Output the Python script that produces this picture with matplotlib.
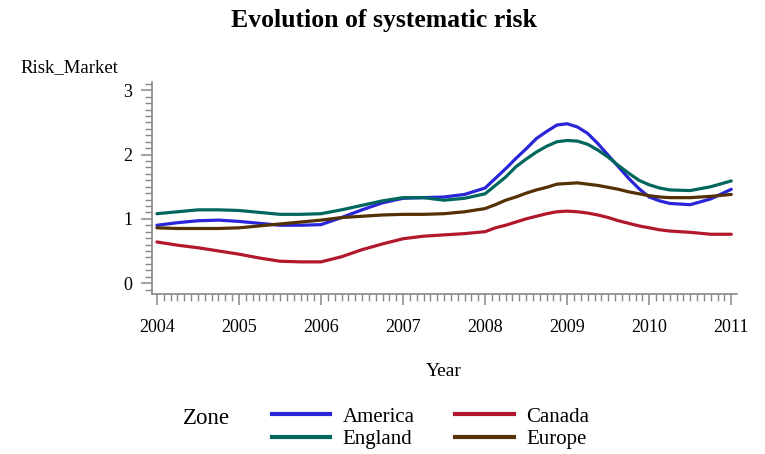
# Evolution of systematic risk by zone
import matplotlib
matplotlib.use("Agg")
import matplotlib.pyplot as plt
from matplotlib.ticker import MultipleLocator
from matplotlib.lines import Line2D

plt.rcParams['font.family'] = ['Liberation Serif', 'DejaVu Serif']

# Data (quarterly readings, eighths around the 2008-2010 hump)
years = [2004.00, 2004.25, 2004.50, 2004.75, 2005.00, 2005.25, 2005.50, 2005.75,
         2006.00, 2006.25, 2006.50, 2006.75, 2007.00, 2007.25, 2007.50, 2007.75,
         2008.000, 2008.125, 2008.250, 2008.375, 2008.500, 2008.625, 2008.750, 2008.875,
         2009.000, 2009.125, 2009.250, 2009.375, 2009.500, 2009.625, 2009.750, 2009.875,
         2010.000, 2010.125, 2010.250,
         2010.50, 2010.75, 2011.00]

america = [0.90, 0.94, 0.97, 0.98, 0.96, 0.93, 0.90, 0.90,
           0.91, 1.02, 1.14, 1.25, 1.32, 1.33, 1.34, 1.38,
           1.48, 1.63, 1.78, 1.94, 2.09, 2.25, 2.36, 2.46,
           2.48, 2.43, 2.33, 2.17, 1.99, 1.81, 1.63, 1.47,
           1.34, 1.28, 1.24,
           1.22, 1.31, 1.46]

england = [1.08, 1.11, 1.14, 1.14, 1.13, 1.10, 1.07, 1.07,
           1.08, 1.14, 1.21, 1.28, 1.33, 1.33, 1.29, 1.32,
           1.39, 1.52, 1.65, 1.81, 1.93, 2.04, 2.13, 2.20,
           2.22, 2.21, 2.16, 2.07, 1.96, 1.83, 1.71, 1.60,
           1.53, 1.48, 1.45,
           1.44, 1.50, 1.59]

canada = [0.64, 0.59, 0.55, 0.50, 0.45, 0.39, 0.34, 0.33,
          0.33, 0.41, 0.52, 0.61, 0.69, 0.73, 0.75, 0.77,
          0.80, 0.86, 0.90, 0.95, 1.00, 1.04, 1.08, 1.11,
          1.12, 1.11, 1.09, 1.06, 1.02, 0.97, 0.93, 0.89,
          0.86, 0.83, 0.81,
          0.79, 0.76, 0.76]

europe = [0.86, 0.85, 0.85, 0.85, 0.86, 0.89, 0.92, 0.95,
          0.98, 1.02, 1.04, 1.06, 1.07, 1.07, 1.08, 1.11,
          1.16, 1.22, 1.29, 1.34, 1.40, 1.45, 1.49, 1.54,
          1.55, 1.56, 1.54, 1.52, 1.49, 1.46, 1.42, 1.39,
          1.36, 1.34, 1.33,
          1.33, 1.35, 1.38]

year_ticks = [2004, 2005, 2006, 2007, 2008, 2009, 2010, 2011]

colors = {'America': '#2A25D9', 'Canada': '#B2182B',
          'England': '#01665E', 'Europe': '#543005'}

fig = plt.figure(figsize=(7.65, 4.54), dpi=100)
ax = fig.add_axes([152 / 765, 1 - 294 / 454, (737 - 152) / 765, (294 - 82) / 454])

lw = 2.3
for name, vals in [('America', america), ('England', england),
                   ('Canada', canada), ('Europe', europe)]:
    ax.plot(years, vals, color=colors[name], lw=lw,
            solid_joinstyle='round', solid_capstyle='round')

ax.set_xlim(2003.94, 2011.07)
ax.set_ylim(-0.17, 3.13)
ax.set_xticks(year_ticks)
ax.set_xticklabels([str(y) for y in year_ticks])
ax.set_yticks([0, 1, 2, 3])
ax.xaxis.set_minor_locator(MultipleLocator(1 / 12))
ax.yaxis.set_minor_locator(MultipleLocator(0.1))

for side in ['top', 'right']:
    ax.spines[side].set_visible(False)
for side in ['left', 'bottom']:
    ax.spines[side].set_color('#888888')
    ax.spines[side].set_linewidth(1.2)

ax.tick_params(which='major', length=8, width=1.1, color='#888888', labelsize=13, pad=6)
ax.tick_params(which='minor', length=5, width=1.0, color='#888888')
ax.tick_params(axis='x', which='major', pad=10)

fig.text(20 / 765, 1 - 68 / 454, 'Risk_Market', fontsize=13.5, ha='left', va='center')
fig.text(444 / 765, 1 - 372 / 454, 'Year', fontsize=14, ha='center', va='center')
fig.suptitle('Evolution of systematic risk', x=384 / 765, y=1 - 20 / 454,
             fontsize=18.5, fontweight='bold', va='center')

fig.text(183 / 765, 1 - 418 / 454, 'Zone', fontsize=16.5, ha='left', va='center')
handles = [Line2D([], [], color=colors[n], lw=3) for n in ['America', 'England', 'Canada', 'Europe']]
fig.legend(handles, ['America', 'England', 'Canada', 'Europe'], ncol=2,
           loc='upper left', bbox_to_anchor=(272 / 765, 1 - 407 / 454),
           frameon=False, fontsize=15, handlelength=2.8, handletextpad=0.6,
           columnspacing=1.95, labelspacing=0.15, borderpad=0, borderaxespad=0)

fig.savefig('out.png', dpi=100)
